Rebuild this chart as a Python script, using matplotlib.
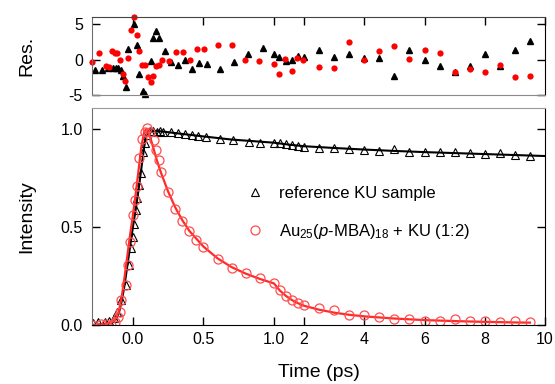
import numpy as np
import matplotlib
matplotlib.use("Agg")
import matplotlib.pyplot as plt

plt.rcParams['font.family'] = ['Liberation Sans', 'DejaVu Sans']
plt.rcParams['mathtext.fontset'] = 'custom'
plt.rcParams['mathtext.rm'] = 'Liberation Sans'
plt.rcParams['mathtext.it'] = 'Liberation Sans:italic'
plt.rcParams['axes.unicode_minus'] = False

# ---- data ----
# reference KU sample (open triangles)
t_ref = [-0.284, -0.248, -0.2, -0.166, -0.135, -0.11, -0.083, -0.052, -0.031, -0.017,
         -0.002, 0.008, 0.021, 0.031, 0.045, 0.054, 0.073, 0.085, 0.101, 0.12,
         0.144, 0.168, 0.191, 0.215, 0.27, 0.32, 0.37, 0.42, 0.46, 0.52,
         0.62, 0.71, 0.82, 0.9, 1.0, 1.2, 1.4, 1.6, 1.8, 2.0,
         2.5, 3.0, 3.5, 4.0, 4.5, 5.0, 5.5, 6.0, 6.5, 7.0, 7.5, 8.0, 8.5, 9.0, 9.5]
I_ref = [0.008, 0.014, 0.014, 0.02, 0.034, 0.068, 0.128, 0.204, 0.306, 0.391,
         0.45, 0.514, 0.587, 0.646, 0.714, 0.774, 0.884, 0.927, 0.969, 0.99,
         0.991, 0.986, 0.991, 0.986, 0.983, 0.978, 0.973, 0.969, 0.964, 0.961,
         0.949, 0.944, 0.935, 0.93, 0.93, 0.927, 0.922, 0.918, 0.915, 0.91,
         0.905, 0.902, 0.897, 0.893, 0.89, 0.897, 0.881, 0.881, 0.884, 0.884,
         0.879, 0.872, 0.875, 0.865, 0.862]

# Au25(p-MBA)18 + KU (open circles)
t_au = [-0.29, -0.225, -0.19, -0.155, -0.13, -0.106, -0.094, -0.083, -0.052, -0.035,
        -0.023, -0.002, 0.014, 0.031, 0.045, 0.062, 0.085, 0.101, 0.12, 0.151,
        0.165, 0.182, 0.2, 0.25, 0.3, 0.35, 0.4, 0.45, 0.5, 0.6,
        0.7, 0.8, 0.9, 1.0, 1.2, 1.4, 1.6, 1.8, 2.0, 2.5,
        3.0, 3.5, 4.0, 4.5, 5.0, 5.5, 6.0, 6.5, 7.0, 7.5, 8.0, 8.5, 9.0, 9.5]
I_au = [0.0, 0.005, 0.005, 0.0, 0.017, 0.043, 0.065, 0.128, 0.204, 0.306,
        0.425, 0.561, 0.638, 0.709, 0.85, 0.947, 0.986, 1.003, 0.985, 0.944,
        0.893, 0.842, 0.782, 0.68, 0.594, 0.528, 0.48, 0.434, 0.4, 0.338,
        0.292, 0.267, 0.238, 0.212, 0.181, 0.148, 0.13, 0.11, 0.104, 0.087,
        0.075, 0.051, 0.053, 0.039, 0.033, 0.031, 0.022, 0.02, 0.029, 0.022,
        0.02, 0.017, 0.02, 0.017]

# fitted curves
t_fit_ref = [-0.29, -0.2, -0.15, -0.12, -0.1, -0.08, -0.06, -0.04, -0.02, 0.0,
             0.02, 0.04, 0.06, 0.08, 0.1, 0.12, 0.15, 0.2, 0.3, 0.5,
             0.7, 1.0, 1.5, 2.0, 3.0, 4.0, 5.0, 6.0, 7.0, 8.0, 9.0, 10.0]
I_fit_ref = [0.0, 0.004, 0.012, 0.03, 0.06, 0.12, 0.2, 0.3, 0.4, 0.5,
             0.59, 0.69, 0.8, 0.91, 0.98, 0.992, 0.99, 0.988, 0.979, 0.962,
             0.946, 0.93, 0.92, 0.912, 0.903, 0.895, 0.888, 0.882, 0.877, 0.872, 0.867, 0.862]

t_fit_au = [-0.29, -0.2, -0.15, -0.12, -0.1, -0.08, -0.06, -0.04, -0.02, 0.0,
            0.02, 0.04, 0.06, 0.08, 0.095, 0.11, 0.13, 0.15, 0.17, 0.2,
            0.25, 0.3, 0.35, 0.4, 0.5, 0.6, 0.7, 0.8, 0.9, 1.0,
            1.2, 1.4, 1.6, 1.8, 2.0, 2.5, 3.0, 3.5, 4.0, 5.0, 6.0, 7.0, 8.0, 9.0, 9.5]
I_fit_au = [0.0, 0.003, 0.012, 0.035, 0.07, 0.14, 0.24, 0.35, 0.46, 0.56,
            0.67, 0.79, 0.91, 0.985, 1.0, 0.985, 0.94, 0.89, 0.84, 0.775,
            0.68, 0.6, 0.535, 0.48, 0.4, 0.34, 0.295, 0.262, 0.235, 0.212,
            0.175, 0.148, 0.127, 0.111, 0.098, 0.078, 0.063, 0.052, 0.044, 0.033,
            0.025, 0.02, 0.016, 0.013, 0.012]

# residuals
t_res_ref = [-0.27, -0.222, -0.176, -0.14, -0.121, -0.104, -0.087, -0.073, -0.052, -0.033,
             0.007, 0.026, 0.045, 0.069, 0.085, 0.125, 0.144, 0.163, 0.184, 0.227,
             0.27, 0.321, 0.369, 0.421, 0.47, 0.522, 0.617, 0.719, 0.818, 0.92,
             1.0, 1.18, 1.39, 1.59, 1.81, 2.0, 2.5, 3.0, 3.5, 4.0,
             4.5, 5.0, 5.5, 6.0, 6.5, 7.0, 7.5, 8.0, 8.5, 9.0, 9.5]
r_ref = [-1.41, -1.41, -1.17, -1.17, -1.17, -1.17, -1.41, -2.25, -3.85, 1.5,
         5.07, 2.0, -1.97, -4.46, -4.8, -0.23, 3.05, 4.0, 3.05, 1.17,
         -0.38, -0.7, -0.09, -1.31, -0.47, -0.61, -1.31, -0.38, 0.85, 1.64,
         0.85, 0.33, -0.23, 0.0, 0.56, 0.33, 1.31, 0.38, 0.85, 0.23,
         0.23, -2.35, 1.31, -0.09, -0.94, -1.78, -0.85, 0.85, -0.85, 1.31, 2.58]

t_res_au = [-0.289, -0.241, -0.19, -0.168, -0.151, -0.128, -0.111, -0.092, -0.073, -0.057,
            -0.033, -0.016, 0.007, 0.026, 0.045, 0.062, 0.085, 0.104, 0.125, 0.144,
            0.163, 0.184, 0.203, 0.255, 0.303, 0.352, 0.404, 0.451, 0.504, 0.6,
            0.699, 0.798, 0.897, 1.0, 1.18, 1.37, 1.59, 1.77, 1.97, 2.49,
            2.99, 3.49, 4.0, 4.5, 5.0, 5.5, 6.0, 6.5, 7.0, 7.5, 8.0, 8.5, 9.0, 9.5]
r_au = [-0.38, 0.94, -0.85, -1.03, 1.17, 0.94, 0.94, 0.0, -1.97, -3.05,
        0.23, 4.2, 6.0, 3.5, 1.17, -0.7, -0.7, -2.44, -3.2, -2.25,
        -0.94, -0.7, 0.0, -0.14, 1.08, 1.03, -0.09, 1.5, 1.5, 2.0,
        2.1, 0.0, -0.23, -0.6, -2.1, 0.1, -1.64, 0.23, 0.0, -1.03,
        -1.17, 2.44, -0.09, 1.17, 1.88, 0.1, 1.41, 0.94, -1.78, -1.31,
        -1.78, -0.7, -2.49, -2.35]

x_ticks = [0.0, 0.5, 1.0, 2, 4, 6, 8, 10]
x_ticklabels = ['0.0', '0.5', '1.0', '2', '4', '6', '8', '10']

# piecewise linear time axis: expanded before 1 ps, compressed after
BREAK = 1.0
RATIO = 30.1 / 141.0


def fwd(t):
    t = np.asarray(t, dtype=float)
    return np.where(t <= BREAK, t, BREAK + (t - BREAK) * RATIO)


def inv(u):
    u = np.asarray(u, dtype=float)
    return np.where(u <= BREAK, u, BREAK + (u - BREAK) / RATIO)


RED = '#ff2a2a'
GREY = '#6e6e6e'

fig = plt.figure(figsize=(5.55, 3.84), dpi=100)
ax_r = fig.add_axes([92 / 555, 1 - 95 / 384, 453 / 555, 78 / 384])
ax = fig.add_axes([92 / 555, 1 - 325 / 384, 453 / 555, 217 / 384])

for a in (ax, ax_r):
    a.set_xscale('function', functions=(fwd, inv))
    a.set_xlim(-0.29, 10)
    a.set_xticks(x_ticks)
    a.minorticks_off()

# residuals
ax_r.plot(t_res_ref, r_ref, '^', color='black', markersize=5, linestyle='none',
          clip_on=False)
ax_r.plot(t_res_au, r_au, 'o', color='#ff0000', markersize=4.5, markeredgewidth=0,
          linestyle='none', clip_on=False)
ax_r.set_ylim(-5, 6)
ax_r.set_yticks([-5, 0, 5])
ax_r.tick_params(axis='both', direction='in', labelsize=11.5, length=6, width=1)
ax_r.tick_params(axis='x', bottom=False, top=True, labelbottom=False)
ax_r.tick_params(axis='y', left=True, right=True, pad=6.5)
ax_r.set_ylabel('Res.', fontsize=14)
ax_r.yaxis.set_label_coords(-0.125, 0.5)
ax_r.spines['left'].set_color(GREY)
ax_r.spines['top'].set_color('#444444')
ax_r.spines['bottom'].set_color('#8a8a8a')
ax_r.spines['right'].set_color('black')

# main panel
ax.plot(t_fit_ref, I_fit_ref, '-', color='black', linewidth=1.5)
h1, = ax.plot(t_ref, I_ref, '^', color='black', fillstyle='none', markersize=6.2,
              markeredgewidth=0.8, linestyle='none', label='reference KU sample')
ax.plot(t_fit_au, I_fit_au, '-', color=RED, linewidth=1.6)
h2, = ax.plot(t_au, I_au, 'o', color='#ff4d4d', fillstyle='none', markersize=6.5,
              markeredgewidth=0.9, linestyle='none',
              label=r'Au$_{25}$($p$-MBA)$_{18}$ + KU (1:2)')

ax.set_ylim(0, 1.107)
ax.set_yticks([0.0, 0.5, 1.0])
ax.set_yticklabels(['0.0', '0.5', '1.0'])
ax.set_xticklabels(x_ticklabels)
ax.tick_params(axis='both', direction='in', labelsize=11.5, length=6, width=1)
ax.tick_params(axis='x', bottom=True, top=False, pad=5)
ax.tick_params(axis='y', left=True, right=True, pad=6.5)
ax.set_ylabel('Intensity', fontsize=14)
ax.yaxis.set_label_coords(-0.125, 0.5)
ax.set_xlabel('Time (ps)', fontsize=14)
ax.xaxis.set_label_coords(0.5, -0.18)
ax.spines['left'].set_color(GREY)
ax.spines['top'].set_color('#9a9a9a')
ax.spines['bottom'].set_color('black')
ax.spines['right'].set_color('black')

ax.legend(handles=[h1, h2], loc='upper left', bbox_to_anchor=(0.342, 0.642),
          frameon=False, fontsize=12, handlelength=1.0, handletextpad=0.9,
          labelspacing=1.25, borderpad=0, borderaxespad=0)

fig.savefig('out.png', dpi=100)
